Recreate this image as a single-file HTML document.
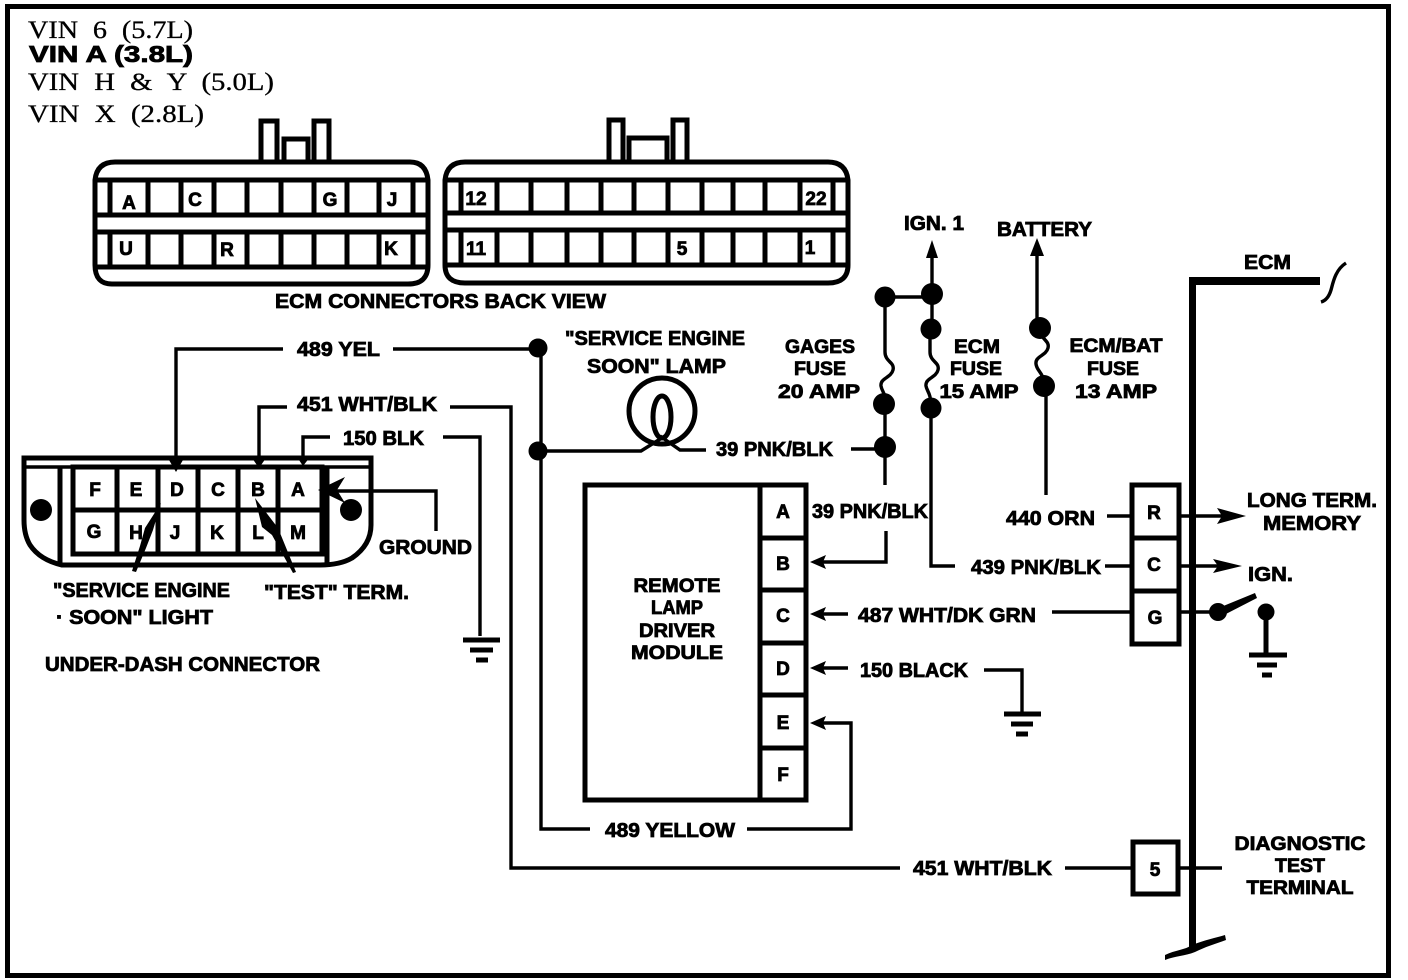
<!DOCTYPE html>
<html><head><meta charset="utf-8"><style>
html,body{margin:0;padding:0;background:#fff}
svg{display:block}
.l{fill:none;stroke:#000;stroke-width:3.4;stroke-linejoin:miter}
.t{stroke:#000;stroke-width:5;fill:none}
text{font-family:"Liberation Sans",sans-serif;font-weight:700;font-size:20px;fill:#000;stroke:#000;stroke-width:.8}
text.s{font-family:"Liberation Serif",serif;font-weight:400;font-size:25px;stroke-width:.3;word-spacing:7px}
text.c{font-size:19px;text-anchor:middle}
</style></head><body>
<svg width="1408" height="980" viewBox="0 0 1408 980" xmlns="http://www.w3.org/2000/svg">
<rect x="7.5" y="6.5" width="1381" height="969" fill="none" stroke="#000" stroke-width="5"/>
<text class="s" x="28" y="38" textLength="165" lengthAdjust="spacingAndGlyphs">VIN 6 (5.7L)</text>
<text x="29" y="62" textLength="164" lengthAdjust="spacingAndGlyphs" style="font-size:23px">VIN A (3.8L)</text>
<text class="s" x="28" y="90" textLength="246" lengthAdjust="spacingAndGlyphs">VIN H &amp; Y (5.0L)</text>
<text class="s" x="28" y="122" textLength="176" lengthAdjust="spacingAndGlyphs">VIN X (2.8L)</text>

<!-- ECM connector 1 -->
<path class="t" d="M95 180Q97 162 115 162H410Q426 162 428 180V265Q428 284 408 284H112Q95 284 95 265Z"/>
<path class="t" d="M261 160V121H277V160M284 160V139H308V160M314 160V121H329V160"/>
<path class="t" d="M93 180H430M93 215H430M93 232H430M93 267H430M110 180V215M148 180V215M181 180V215M214 180V215M247 180V215M281 180V215M314 180V215M347 180V215M379 180V215M413 180V215M110 232V267M148 232V267M181 232V267M214 232V267M247 232V267M281 232V267M314 232V267M347 232V267M379 232V267M413 232V267"/>
<text class="c" x="129" y="209">A</text><text class="c" x="195" y="206">C</text><text class="c" x="330" y="206">G</text><text class="c" x="392" y="206">J</text>
<text class="c" x="126" y="255">U</text><text class="c" x="227" y="256">R</text><text class="c" x="391" y="255">K</text>

<!-- ECM connector 2 -->
<path class="t" d="M445 180Q447 162 465 162H828Q846 162 848 180V265Q848 283 828 283H465Q445 283 445 265Z"/>
<path class="t" d="M609 160V120H623V160M629 160V138H667V160M673 160V120H687V160"/>
<path class="t" d="M443 180H850M443 213H850M443 230H850M443 265H850M461 180V213M497 180V213M531 180V213M567 180V213M601 180V213M634 180V213M668 180V213M702 180V213M733 180V213M765 180V213M800 180V213M833 180V213M461 230V265M497 230V265M531 230V265M567 230V265M601 230V265M634 230V265M668 230V265M702 230V265M733 230V265M765 230V265M800 230V265M833 230V265"/>
<text class="c" x="476" y="205">12</text><text class="c" x="816" y="205">22</text><text class="c" x="476" y="255">11</text><text class="c" x="682" y="255">5</text><text class="c" x="810" y="254">1</text>
<text x="275" y="308" textLength="331" lengthAdjust="spacingAndGlyphs">ECM CONNECTORS BACK VIEW</text>

<!-- Under-dash connector -->
<path class="t" d="M24 458H371V525Q371 545 352 558Q340 565 320 565H62Q40 560 30 545Q24 535 24 520Z"/>
<path class="l" d="M24 467H372"/>
<path class="t" d="M60 468V565M327 468V565"/>
<rect x="73" y="467" width="249" height="87" class="t"/>
<path class="t" d="M73 510H322M117 467V554M158 467V554M198 467V554M238 467V554M278 467V554"/>
<circle cx="41" cy="510" r="11"/><circle cx="351" cy="510" r="11"/>
<text class="c" x="95" y="496">F</text><text class="c" x="136" y="496">E</text><text class="c" x="177" y="496">D</text><text class="c" x="218" y="496">C</text><text class="c" x="258" y="496">B</text><text class="c" x="298" y="496">A</text>
<text class="c" x="94" y="538">G</text><text class="c" x="136" y="539">H</text><text class="c" x="175" y="539">J</text><text class="c" x="217" y="539">K</text><text class="c" x="258" y="539">L</text><text class="c" x="298" y="539">M</text>
<path class="l" d="M176 466V349H283M393 349H538M259 462V407H287M450 407H511V868H900M1065 868H1133M303 460V437H330M443 437H480V636"/>
<path d="M176 472L169 460H183Z"/><path d="M259 468L252 458H266Z"/><path d="M303 466L297 457H310Z"/>
<path class="l" d="M330 491H436V531"/><path d="M318 490L345 477L337 490L345 503Z"/>
<path d="M161 503L153 530L146 548L136 572L132 571L140 546L145 528Z"/>
<path d="M255 498L278 528L296 572L293 573L272 535L262 527Z"/>
<text x="379" y="554" textLength="93" lengthAdjust="spacingAndGlyphs">GROUND</text>
<text x="53" y="597" textLength="177" lengthAdjust="spacingAndGlyphs">"SERVICE ENGINE</text>
<text x="56" y="624" textLength="157" lengthAdjust="spacingAndGlyphs">· SOON" LIGHT</text>
<text x="264" y="599" textLength="145" lengthAdjust="spacingAndGlyphs">"TEST" TERM.</text>
<text x="45" y="671" textLength="275" lengthAdjust="spacingAndGlyphs">UNDER-DASH CONNECTOR</text>
<text x="297" y="356" textLength="83" lengthAdjust="spacingAndGlyphs">489 YEL</text>
<text x="297" y="411" textLength="140" lengthAdjust="spacingAndGlyphs">451 WHT/BLK</text>
<text x="343" y="445" textLength="81" lengthAdjust="spacingAndGlyphs">150 BLK</text>
<path class="t" d="M463 640H500M470 650H493M476 660H488"/>

<!-- Center -->
<circle cx="538" cy="348" r="9.5"/><circle cx="538" cy="451" r="9.5"/>
<path class="l" d="M541 348V829H590M747 829H851V723H818M538 451H641L665 436M660 436L680 450H706M851 449H877"/>
<path d="M810 723L826 716L823 723L826 730Z"/>
<circle cx="662" cy="411" r="33" class="t"/>
<ellipse cx="662" cy="417" rx="9" ry="21" class="t"/>
<text x="565" y="345" textLength="180" lengthAdjust="spacingAndGlyphs">"SERVICE ENGINE</text>
<text x="587" y="373" textLength="139" lengthAdjust="spacingAndGlyphs">SOON" LAMP</text>
<text x="716" y="456" textLength="117" lengthAdjust="spacingAndGlyphs">39 PNK/BLK</text>
<text x="605" y="837" textLength="130" lengthAdjust="spacingAndGlyphs">489 YELLOW</text>
<text x="913" y="875" textLength="139" lengthAdjust="spacingAndGlyphs">451 WHT/BLK</text>

<!-- Module -->
<rect x="585" y="485" width="221" height="315" class="t"/>
<path class="t" d="M760 485V800M760 538H806M760 590H806M760 643H806M760 695H806M760 748H806"/>
<text class="c" x="783" y="518">A</text><text class="c" x="783" y="570">B</text><text class="c" x="783" y="622">C</text><text class="c" x="783" y="675">D</text><text class="c" x="783" y="729">E</text><text class="c" x="783" y="781">F</text>
<text class="c" x="677" y="592" textLength="87" lengthAdjust="spacingAndGlyphs">REMOTE</text><text class="c" x="677" y="614" textLength="52" lengthAdjust="spacingAndGlyphs">LAMP</text><text class="c" x="677" y="637" textLength="76" lengthAdjust="spacingAndGlyphs">DRIVER</text><text class="c" x="677" y="659" textLength="92" lengthAdjust="spacingAndGlyphs">MODULE</text>
<path class="l" d="M886 531V562H820M822 614H848M822 668H848M1052 612H1133M984 670H1022V712"/>
<path d="M810 562L826 555L823 562L826 569Z"/><path d="M810 614L826 607L823 614L826 621Z"/><path d="M810 668L826 661L823 668L826 675Z"/>
<text x="812" y="518" textLength="116" lengthAdjust="spacingAndGlyphs">39 PNK/BLK</text>
<text x="858" y="622" textLength="178" lengthAdjust="spacingAndGlyphs">487 WHT/DK GRN</text>
<text x="860" y="677" textLength="108" lengthAdjust="spacingAndGlyphs">150 BLACK</text>
<path class="t" d="M1004 714H1041M1011 724H1033M1016 734H1028"/>

<!-- Fuses -->
<path class="l" d="M885 297H932M932 250V330M885 297V352C885 362 895 362 893 370C891 378 880 378 881 386C882 392 885 392 885 400M885 404V485"/>
<path class="l" d="M930 330V352C930 362 940 362 938 370C936 378 925 378 926 386C927 392 931 392 931 408V566H955"/>
<path class="l" d="M1037 250V328M1040 328C1040 340 1050 340 1048 348C1046 356 1035 356 1036 364C1037 372 1044 372 1044 386M1046 386V495"/>
<path d="M932 240L926 258H938Z"/><path d="M1037 238L1030 256H1044Z"/>
<circle cx="885" cy="297" r="10.5"/><circle cx="932" cy="294" r="11"/><circle cx="931" cy="329" r="10.5"/><circle cx="931" cy="408" r="10.5"/><circle cx="884" cy="404" r="11"/><circle cx="885" cy="447" r="11"/><circle cx="1040" cy="328" r="11"/><circle cx="1044" cy="386" r="11"/>
<text x="904" y="230" textLength="60" lengthAdjust="spacingAndGlyphs">IGN. 1</text>
<text x="997" y="236" textLength="95" lengthAdjust="spacingAndGlyphs">BATTERY</text>
<text class="c" x="820" y="353" textLength="70" lengthAdjust="spacingAndGlyphs">GAGES</text><text class="c" x="820" y="375" textLength="52" lengthAdjust="spacingAndGlyphs">FUSE</text><text class="c" x="819" y="398" textLength="82" lengthAdjust="spacingAndGlyphs">20 AMP</text>
<text class="c" x="977" y="353" textLength="46" lengthAdjust="spacingAndGlyphs">ECM</text><text class="c" x="976" y="375" textLength="52" lengthAdjust="spacingAndGlyphs">FUSE</text><text class="c" x="979" y="398" textLength="79" lengthAdjust="spacingAndGlyphs">15 AMP</text>
<text class="c" x="1116" y="352" textLength="93" lengthAdjust="spacingAndGlyphs">ECM/BAT</text><text class="c" x="1113" y="375" textLength="52" lengthAdjust="spacingAndGlyphs">FUSE</text><text class="c" x="1116" y="398" textLength="82" lengthAdjust="spacingAndGlyphs">13 AMP</text>

<!-- Right -->
<rect x="1132" y="485" width="47" height="159" class="t"/>
<path class="t" d="M1132 538H1179M1132 591H1179"/>
<text class="c" x="1154" y="519">R</text><text class="c" x="1154" y="571">C</text><text class="c" x="1155" y="624">G</text>
<text x="1006" y="525" textLength="89" lengthAdjust="spacingAndGlyphs">440 ORN</text>
<text x="971" y="574" textLength="130" lengthAdjust="spacingAndGlyphs">439 PNK/BLK</text>
<path class="l" d="M1107 516H1133M1105 566H1133M1180 516H1235M1180 566H1232M1180 612H1218"/>
<path d="M1246 516L1217 508L1222 516L1217 524Z"/><path d="M1242 566L1213 559L1218 566L1213 573Z"/>
<path d="M1216 609L1255 593L1257 598L1222 616Z"/>
<circle cx="1218" cy="612" r="9"/><circle cx="1266" cy="612" r="8.5"/>
<path class="t" d="M1266 612V655M1249 655H1287M1257 665H1277M1262 675H1272"/>
<text x="1247" y="507" textLength="130" lengthAdjust="spacingAndGlyphs">LONG TERM.</text>
<text x="1263" y="530" textLength="98" lengthAdjust="spacingAndGlyphs">MEMORY</text>
<text x="1248" y="581" textLength="45" lengthAdjust="spacingAndGlyphs">IGN.</text>
<path d="M1189 277H1320V285H1196V950H1189Z"/>
<path class="l" d="M1346 263C1335 270 1333 283 1331 290Q1328 300 1321 302"/>
<path d="M1165 955C1175 950 1185 950 1192 945C1205 940 1215 938 1225 935L1226 940C1215 944 1205 947 1195 952C1185 956 1175 956 1165 960Z"/>
<text x="1244" y="269" textLength="47" lengthAdjust="spacingAndGlyphs">ECM</text>
<rect x="1133" y="842" width="45" height="52" class="t"/>
<text class="c" x="1155" y="876">5</text>
<path class="l" d="M1178 868H1222"/>
<text class="c" x="1300" y="850" textLength="131" lengthAdjust="spacingAndGlyphs">DIAGNOSTIC</text><text class="c" x="1300" y="872" textLength="50" lengthAdjust="spacingAndGlyphs">TEST</text><text class="c" x="1300" y="894" textLength="107" lengthAdjust="spacingAndGlyphs">TERMINAL</text>
</svg>
</body></html>
